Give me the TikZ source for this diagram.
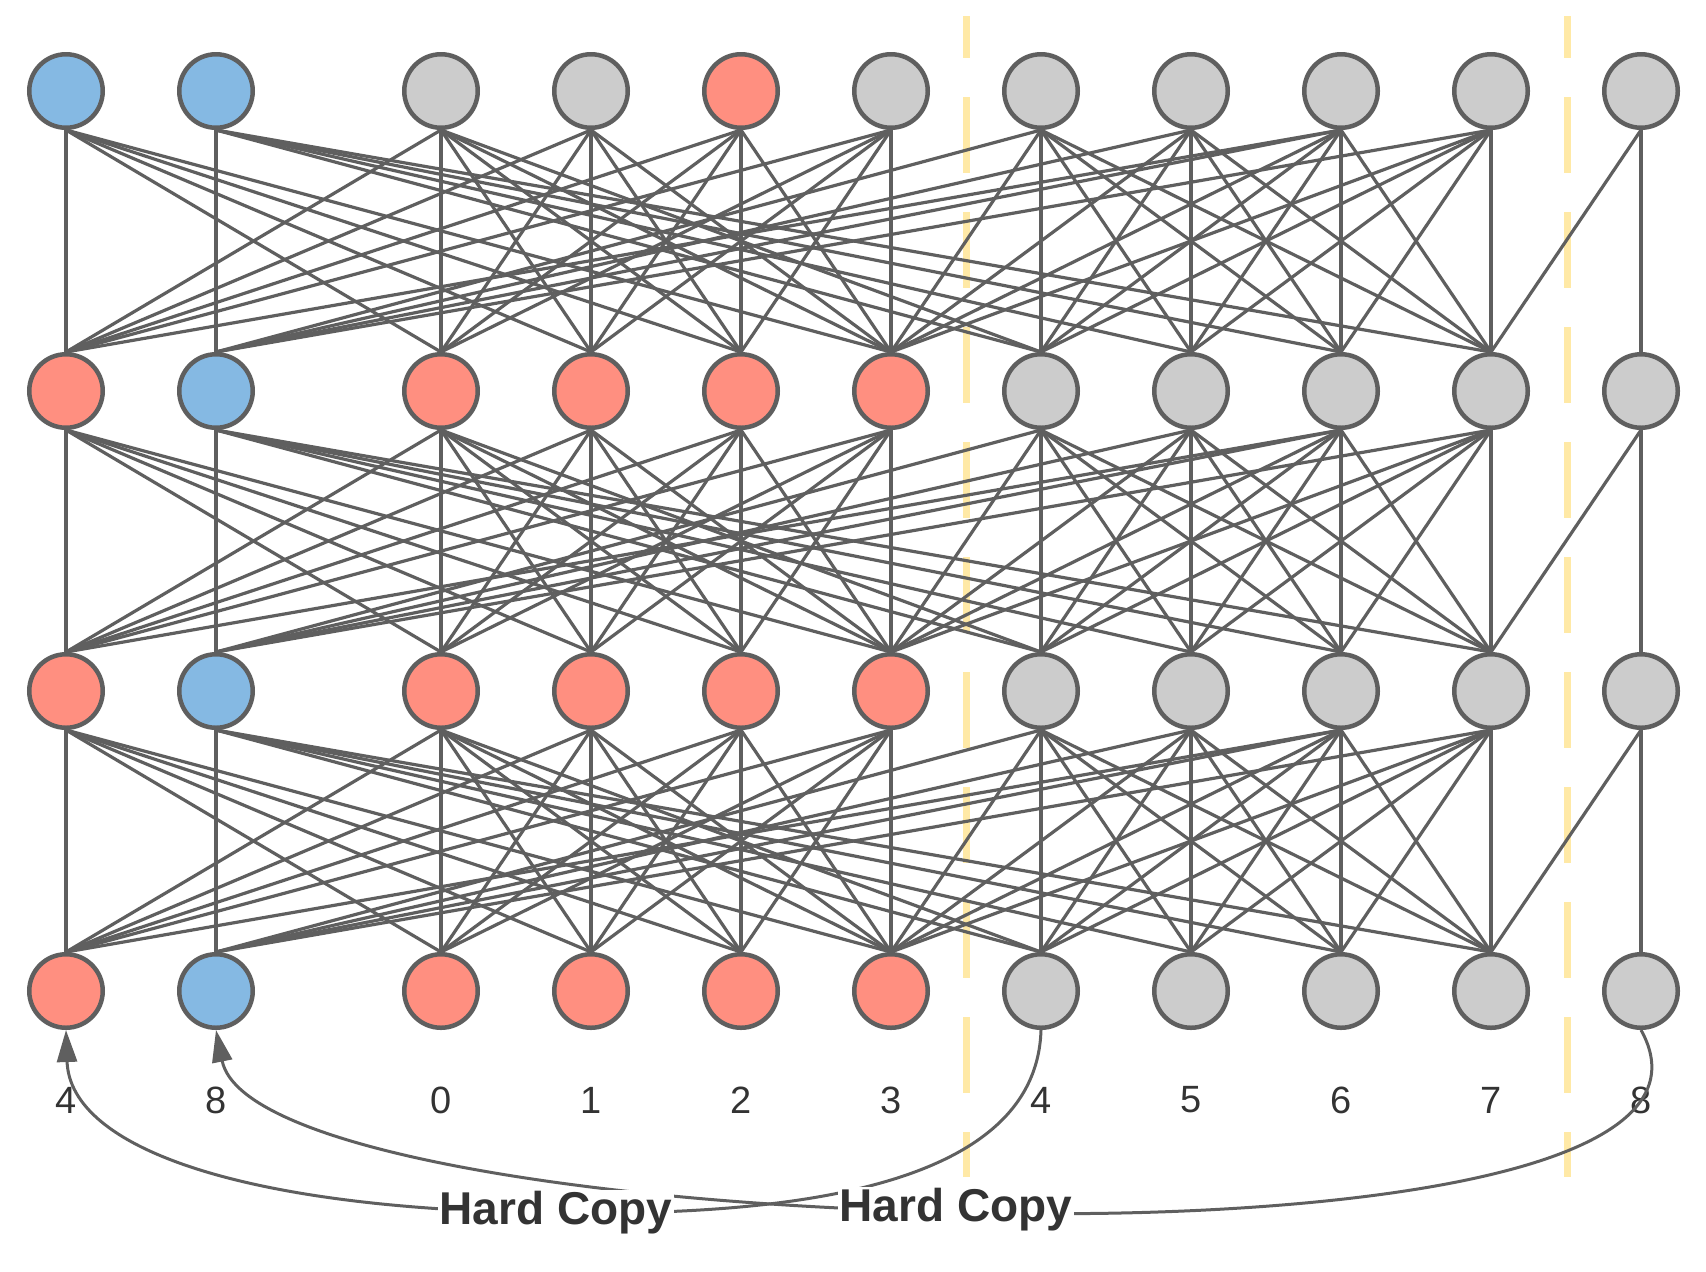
\documentclass[tikz,border=0pt]{standalone}
\usepackage{fontspec}
\setmainfont{Liberation Sans}
\usetikzlibrary{arrows.meta}
\definecolor{edgec}{HTML}{5F5F5F}
\definecolor{bl}{HTML}{85B9E3}
\definecolor{rd}{HTML}{FF8F80}
\definecolor{gr}{HTML}{CCCCCC}
\definecolor{ylw}{HTML}{FFE9A6}
\definecolor{txt}{HTML}{333333}
\pgfdeclarelayer{bg}
\pgfsetlayers{bg,main}
\tikzset{
  nd/.style={circle, draw=edgec, line width=2.25pt, minimum size=36.75pt, inner sep=0pt, fill=#1},
  edge/.style={draw=edgec, line width=1.6pt},
  ydash/.style={draw=ylw, line width=3.5pt, dash pattern=on 38pt off 19.5pt, dash phase=17pt},
  num/.style={text=txt, font=\fontsize{19pt}{23pt}\selectfont},
  hc/.style={text=txt, fill=white, inner sep=1pt, font=\bfseries\fontsize{23pt}{27pt}\selectfont},
  curve/.style={draw=edgec, line width=1.5pt},
  tip/.style={-{Triangle[length=16pt,width=10pt]}}
}
\begin{document}
\begin{tikzpicture}[x=0.5pt,y=-0.5pt]
\useasboundingbox (0,0) rectangle (1706,1271);
% nodes
\foreach \c/\x/\col in {0/66/bl,1/216/bl,2/441/gr,3/591/gr,4/741/rd,5/891/gr,6/1041/gr,7/1191/gr,8/1341/gr,9/1491/gr,10/1641/gr}
  \node[nd=\col] (n-1-\c) at (\x,91) {};
\foreach \r/\y in {2/391,3/691,4/991}
  \foreach \c/\x/\col in {0/66/rd,1/216/bl,2/441/rd,3/591/rd,4/741/rd,5/891/rd,6/1041/gr,7/1191/gr,8/1341/gr,9/1491/gr,10/1641/gr}
    \node[nd=\col] (n-\r-\c) at (\x,\y) {};
% separators and edges
\begin{pgfonlayer}{bg}
\draw[ydash] (966,16) -- (966,1177);
\draw[ydash] (1567,16) -- (1567,1177);
\foreach \r in {1,2,3}{
  \pgfmathtruncatemacro\s{\r+1}
  % block of 4 (halo), 0, 1, 2, 3
  \foreach \u in {0,2,3,4,5}
    \foreach \v in {0,2,3,4,5}
      \draw[edge] (n-\r-\u.south) -- (n-\s-\v.north);
  % block of 4, 5, 6, 7
  \foreach \u in {6,7,8,9}
    \foreach \v in {6,7,8,9}
      \draw[edge] (n-\r-\u.south) -- (n-\s-\v.north);
  % remaining connections
  \foreach \u/\v in {1/1,1/6,1/7,1/8,1/9,
                     6/1,7/1,8/1,9/1,
                     6/5,7/5,8/5,9/5,
                     2/6,8/0,
                     10/9,10/10}
    \draw[edge] (n-\r-\u.south) -- (n-\s-\v.north);
}
\end{pgfonlayer}
% labels
\foreach \c/\x/\t in {0/66/4,1/216/8,2/441/0,3/591/1,4/741/2,5/891/3,6/1041/4,7/1191/5,8/1341/6,9/1491/7,10/1641/8}
  \node[num] (lab-\c) at (\x,1100) {\t};
% hard copy curves
\draw[curve,tip] (n-4-6.south) .. controls (1036,1200) and (750,1215) .. (556,1213)
   .. controls (250,1210) and (70,1150) .. (n-4-0.south);
\draw[curve,tip] (n-4-10.south) .. controls (1730,1190) and (1250,1222) .. (956,1212)
   .. controls (600,1205) and (240,1150) .. (n-4-1.south);
\node[hc] (hc1) at (556,1213) {Hard Copy};
\node[hc] (hc2) at (956,1210) {Hard Copy};
\end{tikzpicture}
\end{document}
